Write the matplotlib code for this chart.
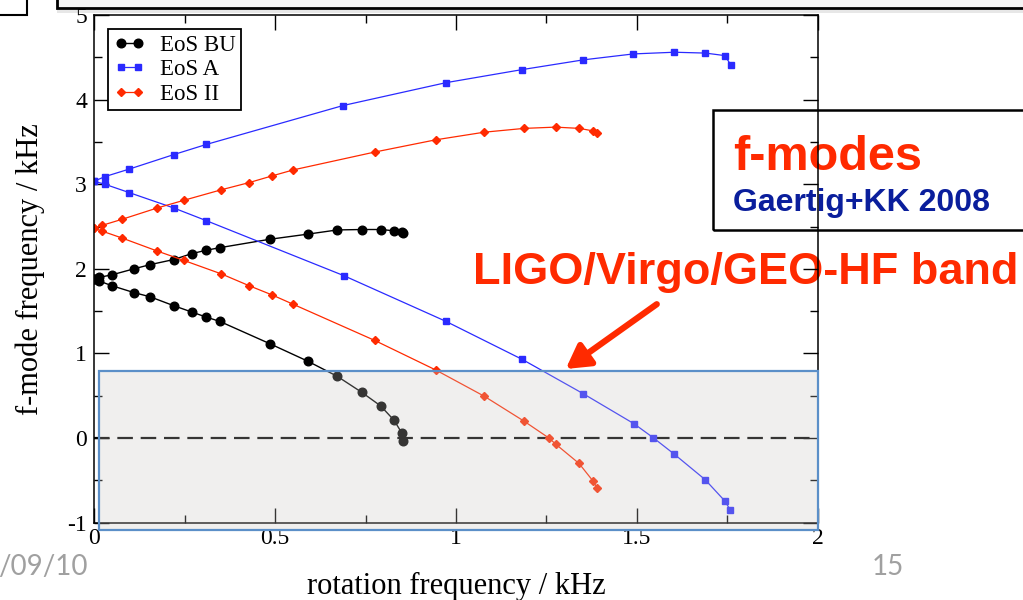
import matplotlib
matplotlib.use('Agg')
import matplotlib.pyplot as plt
from matplotlib.patches import Rectangle
from matplotlib.ticker import MultipleLocator, FormatStrFormatter

plt.rcParams['font.family'] = ['Liberation Serif', 'DejaVu Serif']
plt.rcParams['axes.unicode_minus'] = False

# EoS BU (black circles), upper and lower branch
bu_x = [0.0, 0.015, 0.05, 0.11, 0.155, 0.22, 0.27, 0.31, 0.347, 0.486, 0.59, 0.672, 0.74, 0.792, 0.829, 0.851, 0.853]
bu_up = [1.875, 1.90, 1.93, 2.00, 2.05, 2.11, 2.18, 2.22, 2.25, 2.35, 2.41, 2.46, 2.465, 2.465, 2.45, 2.43, 2.42]
bu_lo = [1.875, 1.855, 1.80, 1.72, 1.67, 1.565, 1.49, 1.43, 1.38, 1.115, 0.91, 0.73, 0.54, 0.38, 0.21, 0.055, -0.03]

# EoS A (blue squares)
a_x_up = [0.0, 0.03, 0.098, 0.22, 0.31, 0.688, 0.972, 1.183, 1.352, 1.49, 1.603, 1.689, 1.743, 1.759]
a_up = [3.035, 3.09, 3.18, 3.35, 3.47, 3.93, 4.20, 4.355, 4.47, 4.54, 4.56, 4.55, 4.52, 4.41]
a_x_lo = [0.0, 0.03, 0.098, 0.22, 0.31, 0.69, 0.972, 1.183, 1.351, 1.492, 1.545, 1.603, 1.688, 1.742, 1.758]
a_lo = [3.035, 3.00, 2.90, 2.72, 2.57, 1.92, 1.38, 0.93, 0.526, 0.169, 0.004, -0.19, -0.49, -0.74, -0.85]

# EoS II (red diamonds)
ii_x_up = [0.0, 0.023, 0.077, 0.175, 0.248, 0.352, 0.429, 0.493, 0.551, 0.775, 0.944, 1.078, 1.188, 1.275, 1.341, 1.379, 1.39]
ii_up = [2.48, 2.515, 2.585, 2.72, 2.81, 2.935, 3.02, 3.10, 3.17, 3.38, 3.525, 3.615, 3.66, 3.675, 3.66, 3.63, 3.61]
ii_x_lo = [0.0, 0.023, 0.077, 0.175, 0.248, 0.352, 0.429, 0.493, 0.551, 0.775, 0.944, 1.078, 1.188, 1.257, 1.275, 1.34, 1.379, 1.39]
ii_lo = [2.48, 2.445, 2.365, 2.21, 2.10, 1.94, 1.80, 1.69, 1.58, 1.155, 0.805, 0.495, 0.20, 0.0, -0.07, -0.30, -0.51, -0.59]

labels = ['EoS BU', 'EoS A', 'EoS II']
black = 'black'
blue = '#2a2aff'
red = '#ff2a00'

fig = plt.figure(figsize=(10.23, 6), dpi=100)
fig.patch.set_facecolor('white')
ax = fig.add_axes([0.0919, 0.1288, 0.7077, 0.8462])
ax.set_facecolor('none')
ax.set_zorder(1)

ax.plot([0, 2], [0, 0], color='black', lw=1.6, dashes=(7, 3.5), zorder=1)

ax.plot(bu_x, bu_up, color=black, lw=1.0, marker='o', ms=6.2, label=labels[0])
ax.plot(bu_x, bu_lo, color=black, lw=1.0, marker='o', ms=6.2)
ax.plot(a_x_up, a_up, color=blue, lw=0.9, marker='s', ms=5, label=labels[1])
ax.plot(a_x_lo, a_lo, color=blue, lw=0.9, marker='s', ms=5)
ax.plot(ii_x_up, ii_up, color=red, lw=0.9, marker='D', ms=4, label=labels[2])
ax.plot(ii_x_lo, ii_lo, color=red, lw=0.9, marker='D', ms=4)

ax.set_xlim(0, 2)
ax.set_ylim(-1, 5)
ax.xaxis.set_major_locator(MultipleLocator(0.5))
ax.xaxis.set_minor_locator(MultipleLocator(0.25))
ax.yaxis.set_major_locator(MultipleLocator(1))
ax.yaxis.set_minor_locator(MultipleLocator(0.5))
ax.xaxis.set_major_formatter(FormatStrFormatter('%g'))
ax.tick_params(which='both', direction='in', top=True, right=True, width=1.0, labelsize=17)
ax.tick_params(which='major', length=10.5)
ax.tick_params(which='minor', length=5.5)
ax.tick_params(axis='x', pad=4)
ax.tick_params(axis='y', pad=5)
for s in ax.spines.values():
    s.set_linewidth(1.1)

ax.set_xlabel('rotation frequency / kHz', fontsize=22, labelpad=16)
ax.set_ylabel('f-mode frequency / kHz', fontsize=22, labelpad=16)

leg = ax.legend(loc='upper left', bbox_to_anchor=(0.0193, 0.9724), borderaxespad=0,
                fontsize=16.5, numpoints=2, handlelength=1.35, handletextpad=0.65,
                labelspacing=0.15, borderpad=0.25, fancybox=False, framealpha=1)
leg.get_frame().set_edgecolor('black')
leg.get_frame().set_linewidth(1.3)

# grey band overlay
fig.add_artist(Rectangle((0.0968, 0.1167), 0.7028, 0.265, transform=fig.transFigure,
                         facecolor=(200/255, 198/255, 195/255), alpha=0.27, edgecolor='none', zorder=2))
fig.add_artist(Rectangle((0.0968, 0.1167), 0.7028, 0.265, transform=fig.transFigure,
                         facecolor='none', edgecolor='#5b8fc8', lw=1.6, zorder=2.1))

# slide decorations
fig.add_artist(Rectangle((0.0557, 0.978), 1.0, 0.01, transform=fig.transFigure,
                         facecolor='#d8d8d8', edgecolor='none', alpha=0.6, zorder=0.2))
fig.add_artist(Rectangle((0.0557, 0.9867), 1.0, 0.05, transform=fig.transFigure,
                         facecolor='#f4f4f4', edgecolor='black', lw=2, zorder=0.3))
fig.add_artist(Rectangle((-0.01, 0.975), 0.0364, 0.05, transform=fig.transFigure,
                         facecolor='white', edgecolor='black', lw=1.5, zorder=0.3))
fig.add_artist(Rectangle((0.697, 0.6167), 0.35, 0.2, transform=fig.transFigure,
                         facecolor='none', edgecolor='black', lw=1.8, zorder=0.3))

sans = ['Liberation Sans', 'DejaVu Sans']
fig.text(0.7165, 0.7167, 'f-modes', color=red, fontsize=35, fontweight='bold', family=sans, zorder=0.5)
fig.text(0.7165, 0.649, 'Gaertig+KK 2008', color='#0a1e9c', fontsize=23, fontweight='bold', family=sans, zorder=0.5)
fig.text(0.4624, 0.5267, 'LIGO/Virgo/GEO-HF band', color=red, fontsize=32.5, fontweight='bold', family=sans, zorder=0.5)

fig.add_artist(plt.Annotation('', xy=(0.553, 0.385), xytext=(0.642, 0.493),
                              xycoords='figure fraction', textcoords='figure fraction',
                              arrowprops=dict(arrowstyle='-|>,head_length=1.4,head_width=0.8',
                                              color=red, lw=4.5, shrinkA=0, shrinkB=0),
                              zorder=3))

fig.text(-0.002, 0.0417, '/09/10', color='#a0a0a0', fontsize=20, family=['Lato', 'DejaVu Sans'])
fig.text(0.852, 0.0417, '15', color='#a0a0a0', fontsize=20, family=['Lato', 'DejaVu Sans'])

fig.savefig('out.png', dpi=100)
